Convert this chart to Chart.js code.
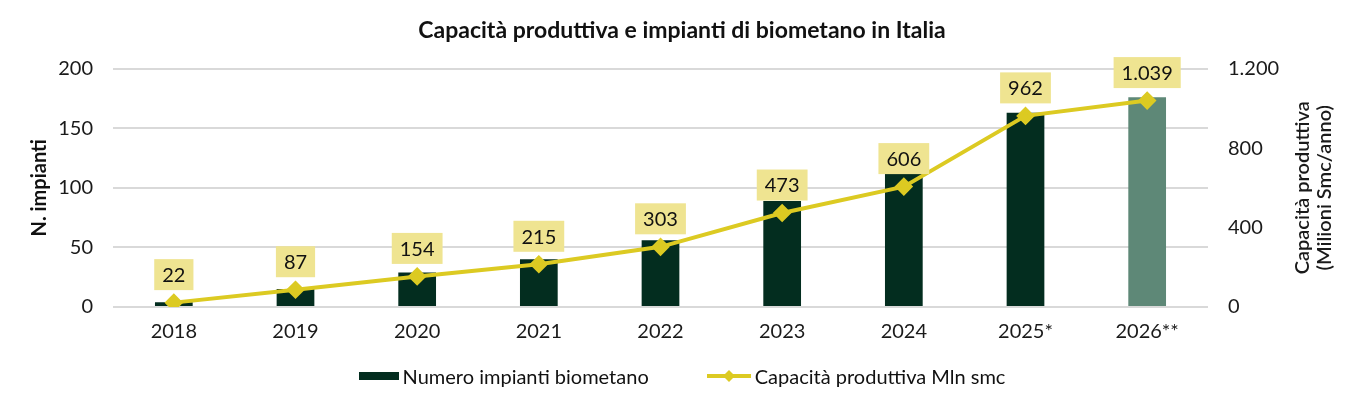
<!DOCTYPE html>
<html>
<head>
<meta charset="utf-8">
<script src="https://cdn.jsdelivr.net/npm/chart.js@4.4.1/dist/chart.umd.min.js"></script>
<style>
    html, body { margin: 0; padding: 0; background: #fff; }
    #wrap { position: relative; width: 1364px; height: 409px; }
    #legenda {
        position: absolute; left: 0; right: 0; top: 364px; height: 24px;
        display: flex; justify-content: center; align-items: center; gap: 58px;
        font: 20px Lato; color: #111;
    }
    .voce { display: flex; align-items: center; gap: 4px; }
    .quadro { width: 40px; height: 8px; background: #032D1F; }
</style>
</head>
<body>
<div id="wrap">
    <canvas id="chart"></canvas>
    <div id="legenda"></div>
</div>
<script>
// dati
const anni = ['2018', '2019', '2020', '2021', '2022', '2023', '2024', '2025*', '2026**'];
const impianti = [4, 15, 29, 40, 56, 89, 113, 163, 176];
const capacita = [22, 87, 154, 215, 303, 473, 606, 962, 1039];

const verdeScuro = '#032D1F';
const verdeChiaro = '#5E8877';
const giallo = '#DCCA22';
const giallino = '#EFE491';

Chart.defaults.font.family = 'Lato';
Chart.defaults.font.size = 20;
Chart.defaults.color = '#1a1a1a';

function fmt(n) {
    return String(n).replace(/\B(?=(\d{3})+(?!\d))/g, '.');
}

// legenda in html sotto il grafico
document.getElementById('legenda').innerHTML = `
    <div class="voce"><div class="quadro"></div><span>Numero impianti biometano</span></div>
    <div class="voce">
        <svg width="44" height="14" viewBox="0 0 44 14">
            <line x1="0" y1="7" x2="44" y2="7" stroke="${giallo}" stroke-width="4"/>
            <polygon points="22,1 28,7 22,13 16,7" fill="${giallo}"/>
        </svg>
        <span>Capacità produttiva Mln smc</span>
    </div>`;

const etichette = {
    id: 'etichette',
    afterDatasetsDraw(chart) {
        const meta = chart.getDatasetMeta(1);
        const ctx = chart.ctx;
        ctx.save();
        ctx.font = '20px Lato';
        ctx.textAlign = 'center';
        ctx.textBaseline = 'middle';
        meta.data.forEach((pt, i) => {
            const testo = fmt(capacita[i]);
            const w = ctx.measureText(testo).width + 16;
            const h = 31;
            const cy = pt.y - 28;
            ctx.fillStyle = giallino;
            ctx.fillRect(pt.x - w / 2, cy - h / 2, w, h);
            ctx.fillStyle = '#111';
            ctx.fillText(testo, pt.x, cy + 1);
        });
        ctx.restore();
    }
};

// titolo dell'asse destro, letto dal basso verso l'alto come quello sinistro
const titoloDestro = {
    id: 'titoloDestro',
    afterDraw(chart) {
        const ctx = chart.ctx;
        const area = chart.chartArea;
        const cy = (area.top + area.bottom) / 2;
        ctx.save();
        ctx.font = '600 20px Lato';
        ctx.fillStyle = '#1a1a1a';
        ctx.textAlign = 'center';
        ctx.textBaseline = 'middle';
        ctx.translate(area.right + 95, cy);
        ctx.rotate(-Math.PI / 2);
        ctx.fillText('Capacità produttiva', 0, 0);
        ctx.fillText('(Milioni Smc/anno)', 0, 22);
        ctx.restore();
    }
};

new Chart(document.getElementById('chart'), {
    type: 'bar',
    data: {
        labels: anni,
        datasets: [{
            type: 'bar',
            label: 'Numero impianti biometano',
            data: impianti,
            backgroundColor: impianti.map((v, i) => i === impianti.length - 1 ? verdeChiaro : verdeScuro),
            categoryPercentage: 1,
            barPercentage: 0.31,
            yAxisID: 'y',
            order: 2
        }, {
            type: 'line',
            label: 'Capacità produttiva Mln smc',
            data: capacita,
            borderColor: giallo,
            backgroundColor: giallo,
            borderWidth: 4,
            pointStyle: 'rectRot',
            pointRadius: 6.5,
            pointHoverRadius: 6.5,
            tension: 0,
            yAxisID: 'y2',
            order: 1
        }]
    },
    options: {
        responsive: true,
        maintainAspectRatio: false,
        animation: false,
        layout: { padding: { left: 0, right: 0, top: 0, bottom: 60 } },
        plugins: {
            title: {
                display: true,
                text: 'Capacità produttiva e impianti di biometano in Italia',
                font: { size: 23, weight: 'bold' },
                color: '#111',
                padding: { top: 17, bottom: 24 }
            },
            legend: { display: false },
            tooltip: { enabled: false }
        },
        scales: {
            x: {
                grid: { display: false },
                border: { display: false },
                ticks: { padding: 5, color: '#1a1a1a' }
            },
            y: {
                position: 'left',
                min: 0,
                max: 200,
                ticks: { stepSize: 50, padding: 20 },
                grid: { color: '#d9d9d9', lineWidth: 2, drawTicks: false },
                border: { display: false },
                title: {
                    display: true,
                    text: 'N. impianti',
                    font: { size: 20, weight: 'bold' },
                    color: '#111',
                    padding: { top: 28, bottom: 0 }
                },
                afterFit: s => { s.width = 113; }
            },
            y2: {
                position: 'right',
                min: 0,
                max: 1200,
                ticks: { stepSize: 400, padding: 20, callback: v => fmt(v) },
                grid: { display: false, drawTicks: false },
                border: { display: false },
                afterFit: s => { s.width = 156; }
            }
        }
    },
    plugins: [etichette, titoloDestro]
});
</script>
</body>
</html>
